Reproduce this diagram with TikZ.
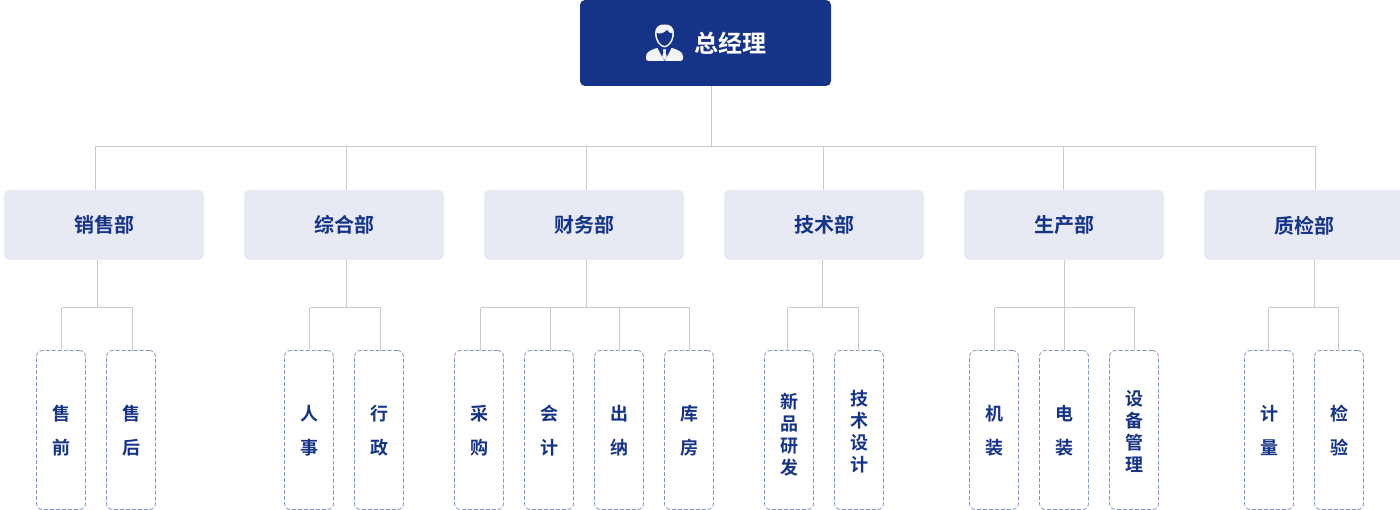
\documentclass[tikz,border=0pt]{standalone}
\usepackage{fontspec}
\setmainfont[BoldFont={Noto Sans CJK SC Bold}]{Noto Sans CJK SC}
\usetikzlibrary{positioning}
\definecolor{navy}{HTML}{153388}
\definecolor{deptfill}{HTML}{E7E9F3}
\definecolor{linegray}{HTML}{C9C9CF}
\definecolor{dashblue}{HTML}{8496C8}
\definecolor{iconwhite}{HTML}{F3F4F8}
\newcommand{\cjkstrut}{\vrule height 0.88em depth 0.12em width 0pt}
\newcommand{\topstrut}[1]{\vrule height #1em depth 0pt width 0pt}
\tikzset{
  topbox/.style={fill=navy,rounded corners=5bp,minimum width=251bp,minimum height=86bp,inner sep=0pt,outer sep=0pt},
  deptbox/.style={fill=deptfill,rounded corners=5bp,minimum width=200bp,minimum height=70bp,inner sep=0pt,outer sep=0pt,text=navy,font=\fontsize{20bp}{24bp}\selectfont\bfseries,execute at begin node=\cjkstrut},
  subbox/.style={draw=dashblue,line width=0.8bp,dash pattern=on 4bp off 2bp,rounded corners=6bp,fill=white,minimum width=49bp,minimum height=159bp,inner sep=0pt,outer sep=0pt,text=navy,align=center},
  widesub/.style={subbox,font=\fontsize{18bp}{34bp}\selectfont\bfseries},
  tightsub/.style={subbox,font=\fontsize{18bp}{22bp}\selectfont\bfseries},
  conn/.style={draw=linegray,line width=1bp},
}
\begin{document}
\begin{tikzpicture}[x=1bp,y=-1bp]
\useasboundingbox (0,0) rectangle (1400,510);
%% top
\node (node_top) at (705.5,43) [topbox] {};
\node (node_title) at (730.5,43.5) [text=white,inner sep=0pt,font=\fontsize{24bp}{28bp}\selectfont\bfseries] {总经理};
% icon
\fill[iconwhite,rounded corners=2.5bp] (646,61) -- (646,54) -- (650,50.5) -- (658,47.5) -- (664.5,50) -- (671,47.5) -- (679,50.5) -- (683,54) -- (683,61) -- cycle;
\fill[navy] (658.5,47) -- (664.5,50) -- (670.5,47) -- (671,49) -- (664.5,61) -- (658,49) -- cycle;
\fill[iconwhite] (662.8,49.5) -- (666.2,49.5) -- (665.6,52.5) -- (666.8,57) -- (664.5,60) -- (662.2,57) -- (663.4,52.5) -- cycle;
\fill[iconwhite] (664.5,24.5) .. controls (669.5,24) and (674,27) .. (674,33) .. controls (674,41) and (669,47.5) .. (664.5,47.5) .. controls (660,47.5) and (655,41) .. (655,33) .. controls (655,27) and (659.5,24) .. (664.5,24.5) -- cycle;
\fill[navy] (656.6,33) .. controls (660,34.5) and (664.5,33) .. (667,30) .. controls (668,32) and (670,33.5) .. (672.4,33.5) .. controls (672.4,40) and (668,45.8) .. (664.5,45.8) .. controls (661,45.8) and (656.6,40) .. (656.6,33) -- cycle;
%% departments
\node (node_a) at (104,225) [deptbox] {销售部};
\node (node_b) at (344,225) [deptbox] {综合部};
\node (node_c) at (584,225) [deptbox] {财务部};
\node (node_d) at (824,225) [deptbox] {技术部};
\node (node_e) at (1064,225) [deptbox] {生产部};
\node (node_f) at (1304,225) [deptbox] {\topstrut{0.98}质检部};
%% sub units
\node (node_a1) at (61,430) [widesub] {\topstrut{1.0}售\\前\cjkstrut};
\node (node_a2) at (131,430) [widesub] {\topstrut{1.0}售\\后\cjkstrut};
\node (node_b1) at (309,430) [widesub] {\topstrut{1.0}人\\事\cjkstrut};
\node (node_b2) at (379,430) [widesub] {\topstrut{1.0}行\\政\cjkstrut};
\node (node_c1) at (479,430) [widesub] {\topstrut{1.0}采\\购\cjkstrut};
\node (node_c2) at (549,430) [widesub] {\topstrut{1.0}会\\计\cjkstrut};
\node (node_c3) at (619,430) [widesub] {\topstrut{1.0}出\\纳\cjkstrut};
\node (node_c4) at (689,430) [widesub] {\topstrut{1.0}库\\房\cjkstrut};
\node (node_d1) at (789,430) [tightsub] {\topstrut{1.43}新\\品\\研\\发\cjkstrut};
\node (node_d2) at (859,430) [tightsub] {\topstrut{1.1}技\\术\\设\\计\cjkstrut};
\node (node_e1) at (994,430) [widesub] {\topstrut{1.0}机\\装\cjkstrut};
\node (node_e2) at (1064,430) [widesub] {\topstrut{1.0}电\\装\cjkstrut};
\node (node_e3) at (1134,430) [tightsub] {\topstrut{1.1}设\\备\\管\\理\cjkstrut};
\node (node_f1) at (1269,430) [widesub] {\topstrut{1.0}计\\量\cjkstrut};
\node (node_f2) at (1339,430) [widesub] {\topstrut{1.0}检\\验\cjkstrut};
%% top bus
\coordinate (bus_0) at (711.5,146.5);
\coordinate (bus_a) at (95.5,146.5);
\coordinate (bus_b) at (346.5,146.5);
\coordinate (bus_c) at (586.5,146.5);
\coordinate (bus_d) at (823.5,146.5);
\coordinate (bus_e) at (1063.5,146.5);
\coordinate (bus_f) at (1315.5,146.5);
\draw [conn] (node_top.south -| bus_0) -- (bus_0);
\draw [conn] (bus_a) -- (bus_f);
\draw [conn] (bus_a) -- (node_a.north -| bus_a);
\draw [conn] (bus_b) -- (node_b.north -| bus_b);
\draw [conn] (bus_c) -- (node_c.north -| bus_c);
\draw [conn] (bus_d) -- (node_d.north -| bus_d);
\draw [conn] (bus_e) -- (node_e.north -| bus_e);
\draw [conn] (bus_f) -- (node_f.north -| bus_f);
%% lower branches
\coordinate (drop_a) at (97.5,307.5);
\coordinate (drop_b) at (346.5,307.5);
\coordinate (drop_c) at (586.5,307.5);
\coordinate (drop_d) at (822.5,307.5);
\coordinate (drop_e) at (1064.5,307.5);
\coordinate (drop_f) at (1314.5,307.5);
\coordinate (stub_a1) at (61.5,307.5);
\coordinate (stub_a2) at (132.5,307.5);
\coordinate (stub_b1) at (309.5,307.5);
\coordinate (stub_b2) at (380.5,307.5);
\coordinate (stub_c1) at (480.5,307.5);
\coordinate (stub_c2) at (550.5,307.5);
\coordinate (stub_c3) at (619.5,307.5);
\coordinate (stub_c4) at (689.5,307.5);
\coordinate (stub_d1) at (787.5,307.5);
\coordinate (stub_d2) at (858.5,307.5);
\coordinate (stub_e1) at (994.5,307.5);
\coordinate (stub_e2) at (1064.5,307.5);
\coordinate (stub_e3) at (1134.5,307.5);
\coordinate (stub_f1) at (1268.5,307.5);
\coordinate (stub_f2) at (1338.5,307.5);
\foreach \d in {a,b,c,d,e,f}
  \draw [conn] (node_\d.south -| drop_\d) -- (drop_\d);
\draw [conn] (stub_a1) -- (stub_a2);
\draw [conn] (stub_b1) -- (stub_b2);
\draw [conn] (stub_c1) -- (stub_c4);
\draw [conn] (stub_d1) -- (stub_d2);
\draw [conn] (stub_e1) -- (stub_e3);
\draw [conn] (stub_f1) -- (stub_f2);
\foreach \s in {a1,a2,b1,b2,c1,c2,c3,c4,d1,d2,e1,e2,e3,f1,f2}
  \draw [conn] (stub_\s) -- (node_\s.north -| stub_\s);
\end{tikzpicture}
\end{document}
